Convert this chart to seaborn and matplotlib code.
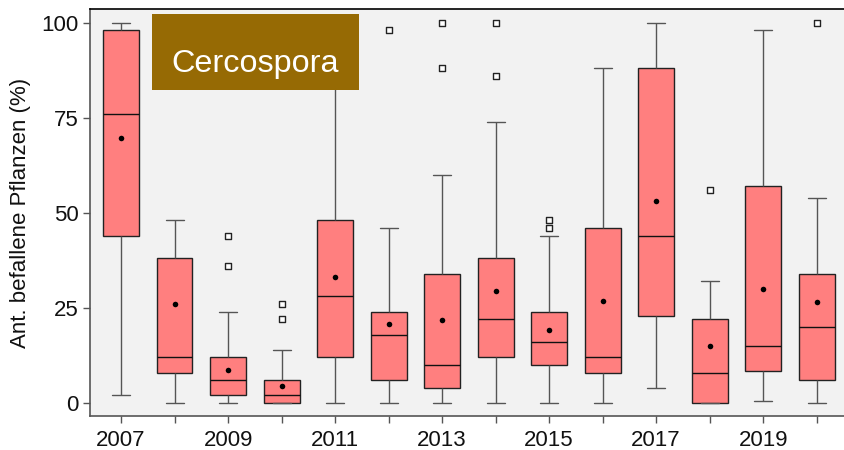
import numpy as np
import pandas as pd
import matplotlib
matplotlib.use("Agg")
import matplotlib.pyplot as plt
from matplotlib.patches import Rectangle
import seaborn as sns

years = [str(y) for y in range(2007, 2021)]
whis_lo = [2, 0, 0, 0, 0, 0, 0, 0, 0, 0, 4, 0, 0.4, 0]
q1 = [44, 8, 2, 0, 12, 6, 4, 12, 10, 8, 23, 0, 8.4, 6]
median = [76, 12, 6, 2, 28, 18, 10, 22, 16, 12, 44, 8, 15, 20]
q3 = [98, 38, 12, 6, 48, 24, 34, 38, 24, 46, 88, 22, 57, 34]
whis_hi = [100, 48, 24, 14, 100, 46, 60, 74, 44, 88, 100, 32, 98, 54]
means = [69.7, 26.1, 8.7, 4.5, 33.1, 20.7, 21.7, 29.5, 19.1, 26.7, 53.0, 14.9, 29.9, 26.5]
outlier_years = ["2009", "2009", "2010", "2010", "2012", "2013", "2013",
                 "2014", "2014", "2015", "2015", "2018", "2020"]
outlier_vals = [44, 36, 26, 22, 98, 100, 88, 100, 86, 48, 46, 56, 100]
tick_labels = [y if int(y) % 2 == 1 else "" for y in years]
label_text = "Cercospora"

# Expand each five-number summary into a sample whose quartiles match it
rows = []
for y, lo, a, m, b, hi in zip(years, whis_lo, q1, median, q3, whis_hi):
    sample = [lo] + [a] * 10 + [m] * 10 + [b] * 10 + [hi]
    rows += [(y, v) for v in sample]
df = pd.DataFrame(rows, columns=["year", "value"])

sns.set_theme(style="white")
plt.rcParams["font.family"] = ["Liberation Sans", "DejaVu Sans"]

fig = plt.figure(figsize=(8.44, 4.5), dpi=100)
ax = fig.add_axes([90 / 844, 1 - 415.7 / 450, 1 - 90 / 844, (415.7 - 9.3) / 450])
ax.set_facecolor("#F2F2F2")

sns.boxplot(data=df, x="year", y="value", order=years, ax=ax, whis=np.inf,
            width=0.67, color="#FF7F7F", saturation=1, linewidth=1,
            boxprops=dict(facecolor="#FF7F7F", edgecolor="#222222"),
            medianprops=dict(color="#111111", linewidth=1),
            whiskerprops=dict(color="#555555", linewidth=1),
            capprops=dict(color="#555555", linewidth=1),
            showfliers=False)

sns.stripplot(x=outlier_years, y=outlier_vals, order=years, ax=ax, jitter=False,
              marker="s", size=5, color="white", edgecolor="#222222",
              linewidth=1, zorder=5)
sns.stripplot(x=years, y=means, order=years, ax=ax, jitter=False,
              marker="o", size=4, color="black", linewidth=0, zorder=6)

ax.set_xlim(-0.58, 13.51)
ax.set_ylim(-3.34, 103.5)
ax.set_yticks([0, 25, 50, 75, 100])
ax.set_xticks(range(len(years)))
ax.set_xticklabels(tick_labels)
ax.set_xlabel("")
ax.set_ylabel("Ant. befallene Pflanzen (%)", fontsize=16, labelpad=8, color="#111111")

ax.tick_params(axis="both", which="major", labelsize=16, colors="#111111")
ax.tick_params(axis="y", length=5, width=1, color="#555555", pad=3, left=True)
ax.tick_params(axis="x", length=5, width=1, color="#555555", pad=5, bottom=True)

for side in ["left", "bottom"]:
    ax.spines[side].set_color("#555555")
    ax.spines[side].set_linewidth(1.2)
ax.spines["top"].set_color("black")
ax.spines["top"].set_linewidth(1.2)
ax.spines["right"].set_visible(False)

# Label box (axes-fraction placement)
x0 = (152 - 90) / 754
x1 = (358.5 - 90) / 754
ytop = (415.7 - 14) / 406.4
ybot = (415.7 - 89.7) / 406.4
ax.add_patch(Rectangle((x0, ybot), x1 - x0, ytop - ybot, transform=ax.transAxes,
                       facecolor="#966A04", edgecolor="none", zorder=10))
ax.text((x0 + x1) / 2, (415.7 - 72) / 406.4, label_text, transform=ax.transAxes,
        ha="center", va="baseline", color="white", fontsize=23.3, zorder=11)

fig.savefig("out.png", dpi=100)
